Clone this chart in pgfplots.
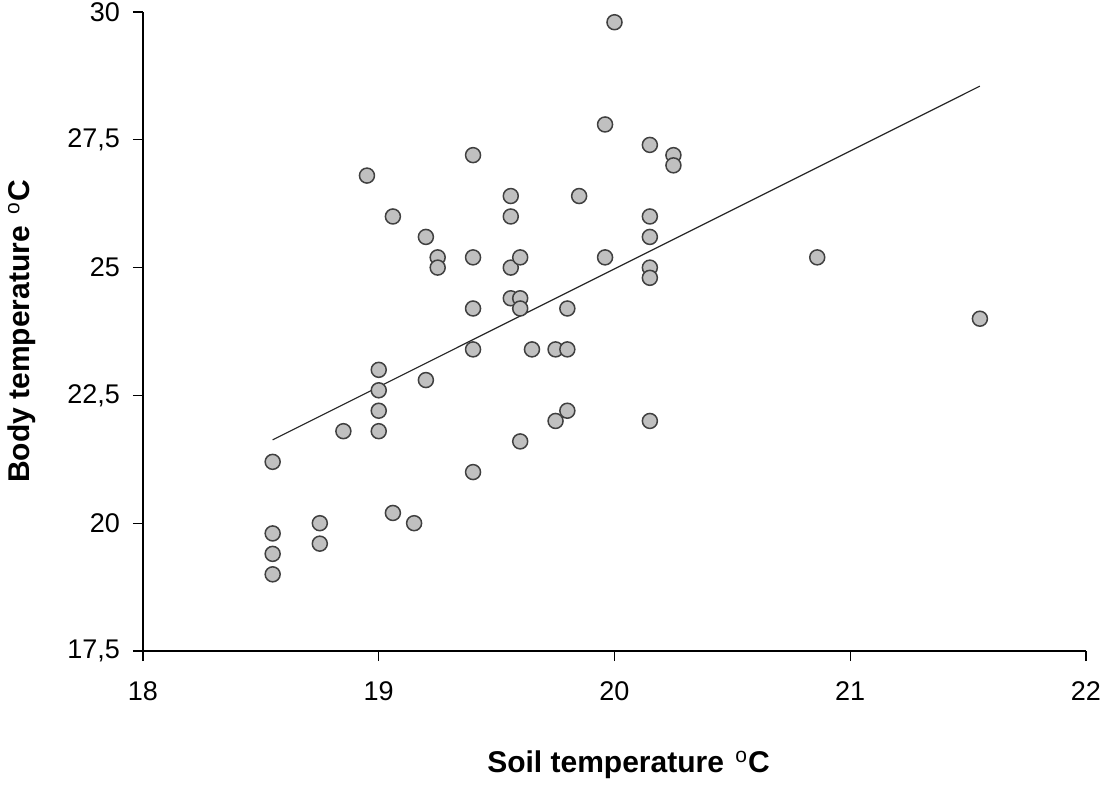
\documentclass[border=0pt]{standalone}
\usepackage{pgfplots}
\pgfplotsset{compat=1.18}
\usepackage{fontspec}
\setmainfont{Liberation Sans}
\definecolor{mfill}{HTML}{C0C0C0}
\definecolor{medge}{HTML}{404040}
\newcommand{\degC}{\hspace{1.5pt}\textsuperscript{\mdseries o}C}
\begin{document}
\begin{tikzpicture}
\begin{axis}[
  name=ax,
  scale only axis,
  width=471.5pt, height=319.5pt,
  xmin=18, xmax=22, ymin=17.5, ymax=30,
  axis x line=bottom, axis y line=left,
  axis line style={black, line width=0.6pt, -},
  xtick={18,19,20,21,22},
  ytick={17.5,20,22.5,25,27.5,30},
  tick align=outside,
  major tick length=5pt,
  tick style={black, line width=0.6pt},
  /pgf/number format/use comma,
  /pgf/number format/assume math mode=true,
  tick label style={font=\fontsize{13.5}{16}\selectfont},
  xticklabel style={yshift=-7pt},
  yticklabel style={xshift=-3pt},
  xlabel={\textbf{Soil temperature \degC}},
  ylabel={\textbf{Body temperature \degC}},
  label style={font=\fontsize{15}{18}\selectfont},
  xlabel style={at={(axis description cs:0.5,0)}, anchor=center, yshift=-57pt, xshift=7pt},
  ylabel style={at={(axis description cs:0,0.5)}, anchor=center, yshift=60.5pt},
  clip=false,
]
\addplot[only marks, mark=*, mark size=3.75pt,
  mark options={fill=mfill, draw=medge, line width=0.75pt}]
  table {
x y
18.55 21.2
18.55 19.8
18.55 19.4
18.55 19.0
18.75 20.0
18.75 19.6
18.85 21.8
18.95 26.8
19.0 23.0
19.0 22.6
19.0 22.2
19.0 21.8
19.06 26.0
19.06 20.2
19.15 20.0
19.2 25.6
19.2 22.8
19.25 25.2
19.25 25.0
19.4 27.2
19.4 25.2
19.4 24.2
19.4 23.4
19.4 21.0
19.56 26.4
19.56 26.0
19.56 25.0
19.56 24.4
19.6 24.4
19.6 24.2
19.6 25.2
19.6 21.6
19.65 23.4
19.75 23.4
19.75 22.0
19.8 24.2
19.8 23.4
19.8 22.2
19.85 26.4
19.96 27.8
19.96 25.2
20.0 29.8
20.15 27.4
20.15 26.0
20.15 25.6
20.15 25.0
20.15 24.8
20.15 22.0
20.25 27.2
20.25 27.0
20.86 25.2
21.55 24.0
};
\addplot[black!85, line width=0.6pt] coordinates {(18.55,21.63) (21.55,28.55)};
\end{axis}
\pgfresetboundingbox
\path[use as bounding box] ([shift={(-71.5pt,-68.5pt)}]ax.south west) rectangle ([shift={(480.5pt,325.5pt)}]ax.south west);
\end{tikzpicture}
\end{document}
